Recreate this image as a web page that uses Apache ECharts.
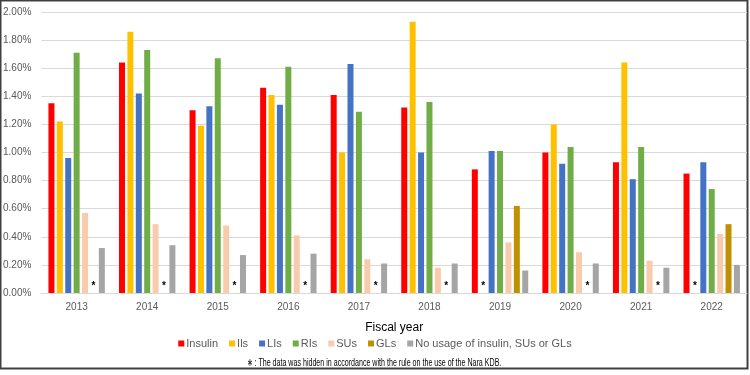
<!DOCTYPE html>
<html>
<head>
<meta charset="utf-8">
<script src="https://cdn.jsdelivr.net/npm/echarts@6/dist/echarts.min.js"></script>
<style>
  html, body { margin: 0; padding: 0; background: #fff; }
  #chart { width: 750px; height: 375px; }
</style>
</head>
<body>
<div id="chart"></div>
<script>
// fiscal years and share of patients (%)
var years = ['2013', '2014', '2015', '2016', '2017', '2018', '2019', '2020', '2021', '2022'];
var insulin = [1.35, 1.64, 1.30, 1.46, 1.41, 1.32, 0.88, 1.00, 0.93, 0.85];
var ils = [1.22, 1.86, 1.19, 1.41, 1.00, 1.93, null, 1.20, 1.64, null];
var lis = [0.96, 1.42, 1.33, 1.34, 1.63, 1.00, 1.01, 0.92, 0.81, 0.93];
var ris = [1.71, 1.73, 1.67, 1.61, 1.29, 1.36, 1.01, 1.04, 1.04, 0.74];
var sus = [0.57, 0.49, 0.48, 0.41, 0.24, 0.18, 0.36, 0.29, 0.23, 0.42];
var gls = [null, null, null, null, null, null, 0.62, null, null, 0.49];
var noUsage = [0.32, 0.34, 0.27, 0.28, 0.21, 0.21, 0.16, 0.21, 0.18, 0.20];
// null = hidden by the Nara KDB rule, drawn as an asterisk

var seriesNames = ['Insulin', 'Ils', 'LIs', 'RIs', 'SUs', 'GLs', 'No usage of insulin, SUs or GLs'];
var seriesData = [insulin, ils, lis, ris, sus, gls, noUsage];
var colors = ['#FF0000', '#FFC000', '#4472C4', '#70AD47', '#F8CBAD', '#BF9000', '#A5A5A5'];

function toBarData(arr) {
  return arr.map(function (v) {
    if (v === null) {
      return {
        value: 0,
        label: {
          show: true, position: 'top', distance: 2, formatter: '*',
          fontSize: 10, lineHeight: 10, fontWeight: 'bold', color: '#000'
        }
      };
    }
    return v;
  });
}

var series = seriesNames.map(function (name, i) {
  return {
    name: name,
    type: 'bar',
    barWidth: 6,
    barGap: '40%',
    itemStyle: { color: colors[i] },
    data: toBarData(seriesData[i])
  };
});

var option = {
  backgroundColor: '#fff',
  animation: false,
  textStyle: { fontFamily: 'Liberation Sans, Arial, sans-serif' },
  grid: { left: 40, right: 3, top: 12, bottom: 82 },
  legend: {
    data: seriesNames,
    bottom: 21,
    left: 'center',
    icon: 'rect',
    itemWidth: 6,
    itemHeight: 6,
    itemGap: 11,
    textStyle: { fontSize: 11, color: '#595959', padding: [0, 0, 0, -3] }
  },
  xAxis: {
    type: 'category',
    data: years,
    name: 'Fiscal year',
    nameLocation: 'middle',
    nameGap: 29,
    nameTextStyle: { fontSize: 12, color: '#000' },
    axisLine: { lineStyle: { color: '#D9D9D9' } },
    axisTick: { show: false },
    axisLabel: { fontSize: 10, color: '#595959', margin: 9 }
  },
  yAxis: {
    type: 'value',
    min: 0,
    max: 2,
    interval: 0.2,
    axisLine: { show: false },
    axisTick: { show: false },
    splitLine: { lineStyle: { color: '#D9D9D9' } },
    axisLabel: {
      fontSize: 10, color: '#595959', margin: 10,
      formatter: function (v) { return v.toFixed(2) + '%'; }
    }
  },
  graphic: [
    {
      type: 'text',
      x: 374,
      y: 363,
      scaleX: 0.645,
      style: {
        text: '\u2217 : The data was hidden in accordance with the rule on the use of the Nara KDB.',
        font: '11px "Liberation Sans Narrow", Arial, sans-serif',
        fill: '#000',
        textAlign: 'center',
        textVerticalAlign: 'middle'
      }
    },
    {
      type: 'rect',
      shape: { x: 0.5, y: 0.5, width: 747, height: 368 },
      style: { fill: 'none', stroke: '#404040', lineWidth: 2 }
    }
  ],
  series: series
};

var myChart = echarts.init(document.getElementById('chart'));
myChart.setOption(option, true);
</script>
</body>
</html>
